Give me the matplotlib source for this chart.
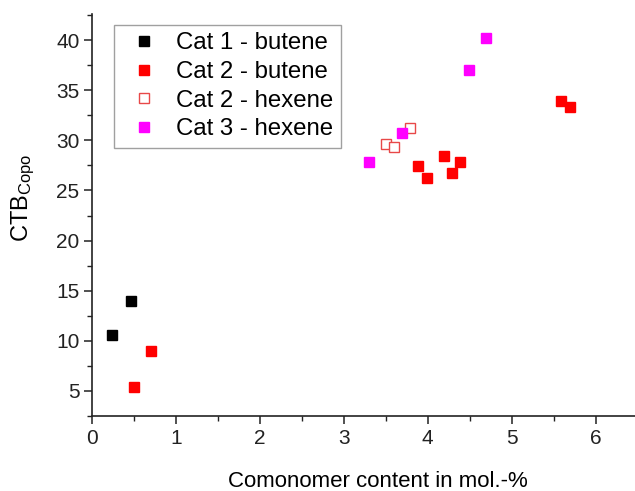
import matplotlib
matplotlib.use("Agg")
import matplotlib.pyplot as plt
from matplotlib.ticker import MultipleLocator

plt.rcParams['font.family'] = ['Liberation Sans', 'DejaVu Sans']
plt.rcParams['mathtext.fontset'] = 'custom'
plt.rcParams['mathtext.rm'] = 'Liberation Sans'
plt.rcParams['mathtext.it'] = 'Liberation Sans'

cat1_butene_x = [0.235, 0.46]
cat1_butene_y = [10.6, 14.0]
cat2_butene_x = [0.50, 0.70, 3.89, 3.99, 4.20, 4.29, 4.39, 5.59, 5.69]
cat2_butene_y = [5.4, 9.0, 27.45, 26.2, 28.4, 26.7, 27.85, 33.9, 33.3]
cat2_hexene_x = [3.50, 3.60, 3.79]
cat2_hexene_y = [29.6, 29.3, 31.2]
cat3_hexene_x = [3.30, 3.695, 4.49, 4.69]
cat3_hexene_y = [27.8, 30.7, 37.0, 40.2]

fig = plt.figure(figsize=(6.35, 4.91), dpi=100)
ax = fig.add_axes([92/635, 75/491, 1 - 92/635, (416 - 14)/491])

ms = 6.5
ax.plot(cat1_butene_x, cat1_butene_y, 's', color='black', ms=ms, mec='black', label='Cat 1 - butene')
ax.plot(cat2_butene_x, cat2_butene_y, 's', color='#ff0000', ms=ms, mec='#ff0000', label='Cat 2 - butene')
ax.plot(cat2_hexene_x, cat2_hexene_y, 's', mfc='white', mec='#e84848', ms=ms, mew=1.0, label='Cat 2 - hexene')
ax.plot(cat3_hexene_x, cat3_hexene_y, 's', color='#ff00ff', ms=ms, mec='#ff00ff', label='Cat 3 - hexene')

ax.set_xlim(0, 6.47)
ax.set_ylim(2.5, 42.6)
ax.xaxis.set_major_locator(MultipleLocator(1))
ax.xaxis.set_minor_locator(MultipleLocator(0.5))
ax.yaxis.set_major_locator(MultipleLocator(5))
ax.yaxis.set_minor_locator(MultipleLocator(2.5))
ax.set_yticks([5, 10, 15, 20, 25, 30, 35, 40])

for s in ['top', 'right']:
    ax.spines[s].set_visible(False)
for s in ['left', 'bottom']:
    ax.spines[s].set_linewidth(1.2)
    ax.spines[s].set_color('#222222')

ax.tick_params(which='major', direction='out', length=6, width=1.1, labelsize=15, colors='#222222', pad=3)
ax.tick_params(which='minor', direction='out', length=3.5, width=1.0, colors='#222222')

ax.set_xlabel('Comonomer content in mol.-%', fontsize=16)
ax.xaxis.set_label_coords((378 - 92) / 543, -0.137)
ax.set_ylabel('CTB$_{\\mathregular{Copo}}$', fontsize=17)
ax.yaxis.set_label_coords(-0.101, (416 - 198) / 402)

leg = ax.legend(loc='upper left', bbox_to_anchor=((114-92)/543, (416-25)/402),
                fontsize=17.3, frameon=True, fancybox=False, borderpad=0.3,
                handletextpad=0.4, labelspacing=0.28, handlelength=1.9,
                borderaxespad=0, markerscale=1.0)
leg.get_frame().set_edgecolor('#888888')
leg.get_frame().set_linewidth(1.0)

fig.savefig('out.png', dpi=100)
